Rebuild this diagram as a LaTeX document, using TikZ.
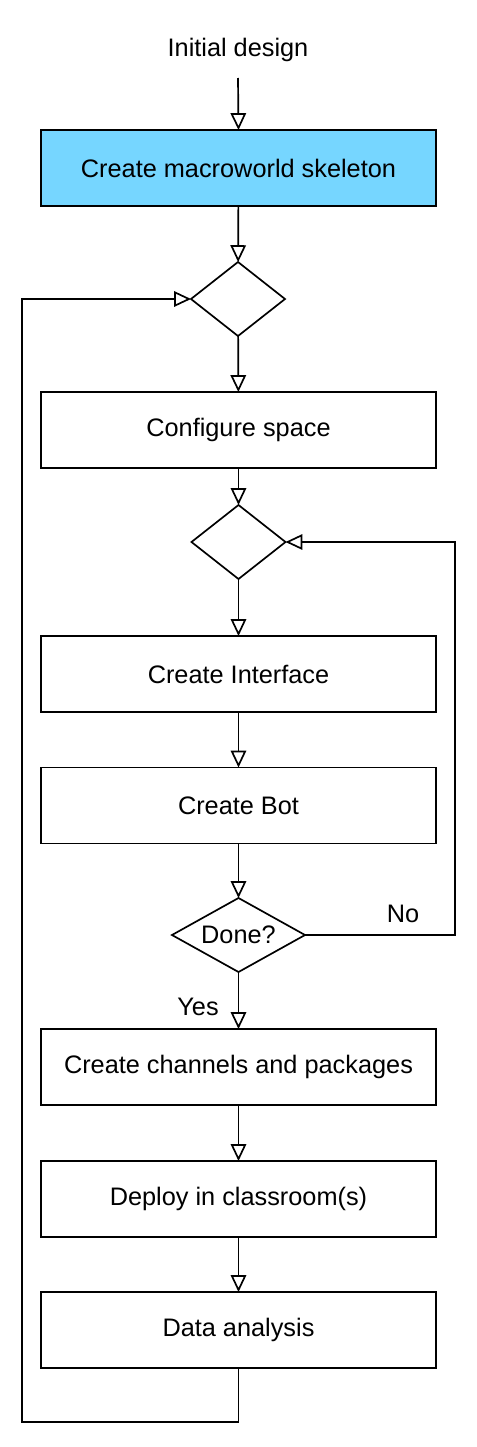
\documentclass[tikz,border=0pt]{standalone}
\usepackage{fontspec}
\setmainfont{Liberation Sans}
\usetikzlibrary{arrows.meta,shapes.geometric}

\tikzset{
  etape/.style={draw=black, line width=1.2pt, fill=white, minimum width=9.875cm, minimum height=1.9cm, inner sep=0pt, outer sep=0pt, font=\fontsize{18}{21}\selectfont},
  choix/.style={diamond, draw=black, line width=1.2pt, minimum width=2.35cm, minimum height=1.85cm, inner sep=0pt, outer sep=0pt, font=\fontsize{18}{21}\selectfont},
  fleche/.style={draw=black, line width=1.2pt, -{Triangle[open, length=12pt, width=11pt]}},
  etiquette/.style={font=\fontsize{18}{21}\selectfont}
}

\begin{document}
\begin{tikzpicture}[x=0.025cm, y=-0.025cm]
\definecolor{my_blue}{HTML}{76D6FF}
\useasboundingbox (0,0) rectangle (477,1447);

\node[etiquette] (depart) at (238,50){Initial design};

\node[etape, fill=my_blue] (squelette) at (238.5,168){Create macroworld skeleton};
\node[choix] (choix_haut) at (238,299){};
\node[etape] (espace) at (238.5,430){Configure space};
\node[choix] (choix_milieu) at (238.5,542){};
\node[etape] (interface) at (238.5,674){Create Interface};
\node[etape] (bot) at (238.5,805.5){Create Bot};
\node[choix, aspect=1.8, minimum width=3.325cm] (fini) at (238.5,935){Done?};
\node[etape] (canaux) at (238.5,1067){Create channels and packages};
\node[etape] (deploiement) at (238.5,1199){Deploy in classroom(s)};
\node[etape] (analyse) at (238.5,1330){Data analysis};

\node[etiquette] (oui) at (198,1007){Yes};
\node[etiquette] (non) at (403,914){No};

\coordinate (haut) at (238,78);%debut de la premiere fleche
\coordinate (coin_bas) at (22,1422);%coin de la grande boucle
\coordinate (coin_droit) at (455,935);%coin de la boucle du non

\draw[fleche] (haut) -- (squelette.north);
\draw[fleche] (squelette) -- (choix_haut);
\draw[fleche] (choix_haut) -- (espace);
\draw[fleche] (espace) -- (choix_milieu);
\draw[fleche] (choix_milieu) -- (interface);
\draw[fleche] (interface) -- (bot);
\draw[fleche] (bot) -- (fini);
\draw[fleche] (fini) -- (canaux);
\draw[fleche] (canaux) -- (deploiement);
\draw[fleche] (deploiement) -- (analyse);

\draw[fleche] (fini.east) -- (coin_droit) |- (choix_milieu.east);%la boucle du non
\draw[fleche] (analyse.south) |- (coin_bas) |- (choix_haut.west);%la grande boucle

\end{tikzpicture}
\end{document}
